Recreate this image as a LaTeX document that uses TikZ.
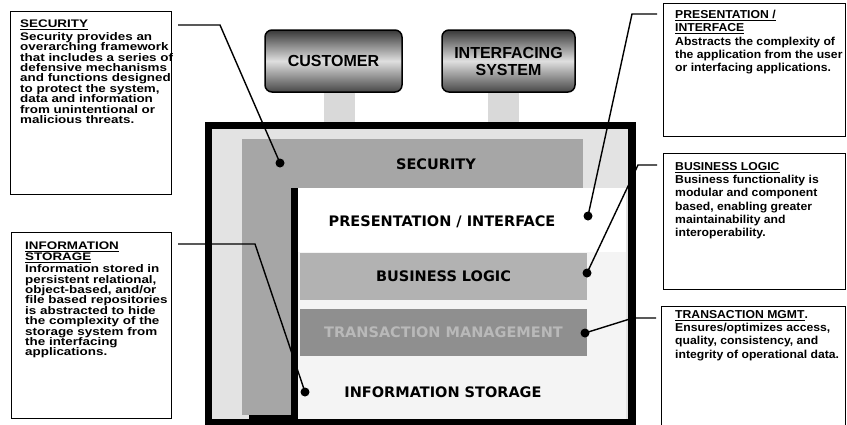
\documentclass[tikz,border=0pt]{standalone}
\usepackage{fontspec}
\setmainfont{Liberation Sans}
\newfontfamily\leftfont[FakeStretch=1.22]{Liberation Sans}
\newfontfamily\rightfont[FakeStretch=1.06]{Liberation Sans}
\newfontfamily\layerfont{DejaVu Sans}
\usetikzlibrary{positioning}

\tikzset{
  descbox/.style={draw, line width=1.3pt, inner sep=0pt, anchor=north west},
  lefttext/.style={anchor=north west, align=left, inner sep=0pt, font={\leftfont\bfseries\fontsize{11}{10.4}\selectfont}},
  righttext/.style={anchor=north west, align=left, inner sep=0pt, font={\rightfont\bfseries\fontsize{11.5}{13.3}\selectfont}},
  actor/.style={draw, line width=1.5pt, rounded corners=7pt, top color=black!78, bottom color=black!72, middle color=gray!25, minimum height=62pt, align=center, inner sep=0pt, font={\bfseries\fontsize{16}{17}\selectfont}},
  band/.style={draw=gray!30, line width=31pt},
  layerbar/.style={minimum width=287pt, minimum height=47pt, inner sep=0pt, font={\layerfont\bfseries\fontsize{14.5}{16}\selectfont}},
  layer/.style={inner sep=0pt, font={\layerfont\bfseries\fontsize{14.5}{16}\selectfont}},
  dot/.style={circle, fill=black, inner sep=0pt, minimum size=9pt},
  leader/.style={line width=1.4pt},
}

\begin{document}
\begin{tikzpicture}[x=1pt, y=-1pt]
  \useasboundingbox (0,0) rectangle (847,424);
  \clip (0,0) rectangle (847,424);
  \fill[white] (0,0) rectangle (847,424);

  % users of the system
  \node[actor, minimum width=137pt] (cust) at (333.5,61) {CUSTOMER};
  \node[actor, minimum width=133pt] (intsys) at (508.5,61) {INTERFACING\\SYSTEM};

  % outer frame
  \node[draw, line width=5pt, fill=gray!22, minimum width=421pt, minimum height=295pt, inner sep=0pt] (frame) at (420,274) {};
  \draw[band] ([xshift=5.5pt]cust.south) -- ([xshift=5.5pt]cust.south |- frame.north);
  \draw[band] ([xshift=-5.5pt]intsys.south) -- ([xshift=-5.5pt]intsys.south |- frame.north);
  \draw[line width=5pt] (frame.north west) rectangle (frame.south east);

  % inner areas
  \fill[gray!9] (298,188) rectangle (626,419);
  \fill[white] (298,188) rectangle (626,252);
  \fill[gray!70] (242,139) rectangle (583,188);
  \fill[gray!70] (242,188) rectangle (291,415);
  \fill[black] (291,188) rectangle (298,419);
  \fill[black] (249,415) rectangle (298,419);

  % layers
  \node[layer] (seclbl) at (436,164) {SECURITY};
  \node[layer] (preslbl) at (442,222) {PRESENTATION / INTERFACE};
  \node[layerbar, fill=gray!60] (busbar) at (443.5,276.5) {BUSINESS LOGIC};
  \node[layerbar, fill=gray!88, text=gray!55] (trnbar) at (443.5,332.5) {TRANSACTION MANAGEMENT};
  \node[layer] (infolbl) at (443,392) {INFORMATION STORAGE};

  % dots
  \foreach \nm/\px/\py in {secdot/280/163, infodot/305/392, presdot/588/216, busdot/587/273, trndot/585/333} {
    \node[dot] (\nm) at (\px,\py) {};
  }

  % left descriptions
  \node[descbox, minimum width=161pt, minimum height=183pt] (secbox) at (10,11) {};
  \node[lefttext] (sectxt) at (20,20) {\underline{SECURITY}\\[2pt]
    Security provides an\\
    overarching framework\\
    that includes a series of\\
    defensive mechanisms\\
    and functions designed\\
    to protect the system,\\
    data and information\\
    from unintentional or\\
    malicious threats.};
  \node[descbox, minimum width=160pt, minimum height=186pt] (infobox) at (11,232) {};
  \node[lefttext] (infotxt) at (25,242) {\underline{INFORMATION}\\
    \underline{STORAGE}\\[2pt]
    Information stored in\\
    persistent relational,\\
    object-based, and/or\\
    file based repositories\\
    is abstracted to hide\\
    the complexity of the\\
    storage system from\\
    the interfacing\\
    applications.};

  % right descriptions
  \node[descbox, minimum width=182pt, minimum height=133pt] (presbox) at (663,3) {};
  \node[righttext] (prestxt) at (675,10) {\underline{PRESENTATION /}\\
    \underline{INTERFACE}\\
    Abstracts the complexity of\\
    the application from the user\\
    or interfacing applications.};
  \node[descbox, minimum width=182pt, minimum height=136pt] (busbox) at (663,153) {};
  \node[righttext] (bustxt) at (675,162) {\underline{BUSINESS LOGIC}\\
    Business functionality is\\
    modular and component\\
    based, enabling greater\\
    maintainability and\\
    interoperability.};
  \node[descbox, minimum width=184pt, minimum height=130pt] (trnbox) at (661,306) {};
  \node[righttext] (trntxt) at (675,310) {\underline{TRANSACTION MGMT}.\\
    Ensures/optimizes access,\\
    quality, consistency, and\\
    integrity of operational data.};

  % leader lines
  \coordinate (secstart) at (178,25);
  \coordinate (secbend) at (220,25);
  \coordinate (infostart) at (178,244);
  \coordinate (infobend) at (255,244);
  \coordinate (presstart) at (657,14);
  \coordinate (presbend) at (632,14);
  \coordinate (busstart) at (657,165);
  \coordinate (busbend) at (638,165);
  \coordinate (trnstart) at (656,318);
  \coordinate (trnbend) at (633,318);
  \draw[leader] (secstart) -- (secbend) -- (secdot.center);
  \draw[leader] (infostart) -- (infobend) -- (infodot.center);
  \draw[leader] (presstart) -- (presbend) -- (presdot.center);
  \draw[leader] (busstart) -- (busbend) -- (busdot.center);
  \draw[leader] (trnstart) -- (trnbend) -- (trndot.center);
\end{tikzpicture}
\end{document}
